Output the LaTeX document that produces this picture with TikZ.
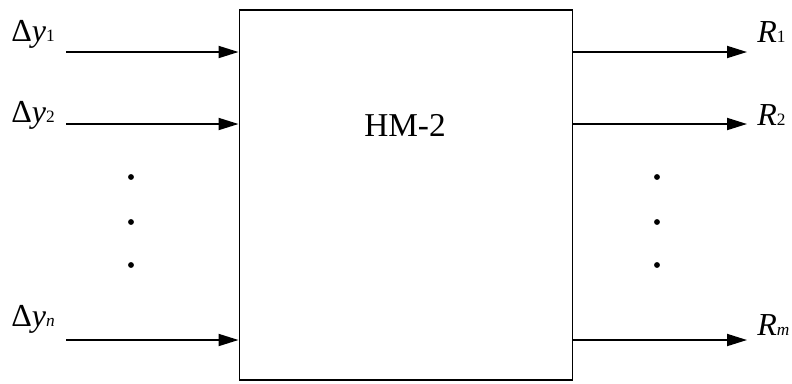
\documentclass[tikz,border=0pt]{standalone}
\usepackage{fontspec}
\setmainfont{Liberation Serif}
\usetikzlibrary{arrows.meta}
\tikzset{
  conn/.style={line width=1.4pt,-{Triangle[length=15pt,width=9pt]}},
  lbl/.style={anchor=base west,inner sep=0pt,font=\fontsize{24}{28}\selectfont},
  dotnode/.style={circle,fill=black,inner sep=0pt,minimum size=4.4pt}
}
\newcommand{\subsz}[1]{{\fontsize{13}{15}\selectfont #1}}
\begin{document}
\begin{tikzpicture}[x=0.75pt,y=-0.75pt]
\useasboundingbox (0,0) rectangle (792,383);
\node[draw,line width=1.1pt,minimum width=250.1pt,minimum height=277.5pt,inner sep=0pt] (hm) at (406,195) {};
\node[anchor=base,inner sep=0pt,font=\fontsize{25}{29}\selectfont] (t) at (405,136) {HM-2};
% inputs
\coordinate (i1) at (66,52);
\coordinate (i2) at (66,124);
\coordinate (in) at (66,340);
\draw[conn] (i1) -- (hm.west |- i1);
\draw[conn] (i2) -- (hm.west |- i2);
\draw[conn] (in) -- (hm.west |- in);
% outputs
\coordinate (o1) at (747,52);
\coordinate (o2) at (747,124);
\coordinate (om) at (747,340);
\draw[conn] (hm.east |- o1) -- (o1);
\draw[conn] (hm.east |- o2) -- (o2);
\draw[conn] (hm.east |- om) -- (om);
% labels
\node[lbl] (l1) at (11,41) {Δ\textit{y}\subsz{1}};
\node[lbl] (l2) at (11,122) {Δ\textit{y}\subsz{2}};
\node[lbl] (ln) at (11,326) {Δ\textit{y}\subsz{\textit{n}}};
\node[lbl] (r1) at (757,42) {\textit{R}\subsz{1}};
\node[lbl] (r2) at (757,125) {\textit{R}\subsz{2}};
\node[lbl] (rm) at (757,335) {\textit{R}\subsz{\textit{m}}};
% dots
\foreach \y [count=\k] in {177,222,265}{
  \node[dotnode] (dl\k) at (131,\y) {};
  \node[dotnode] (dr\k) at (657,\y) {};
}
\end{tikzpicture}
\end{document}
